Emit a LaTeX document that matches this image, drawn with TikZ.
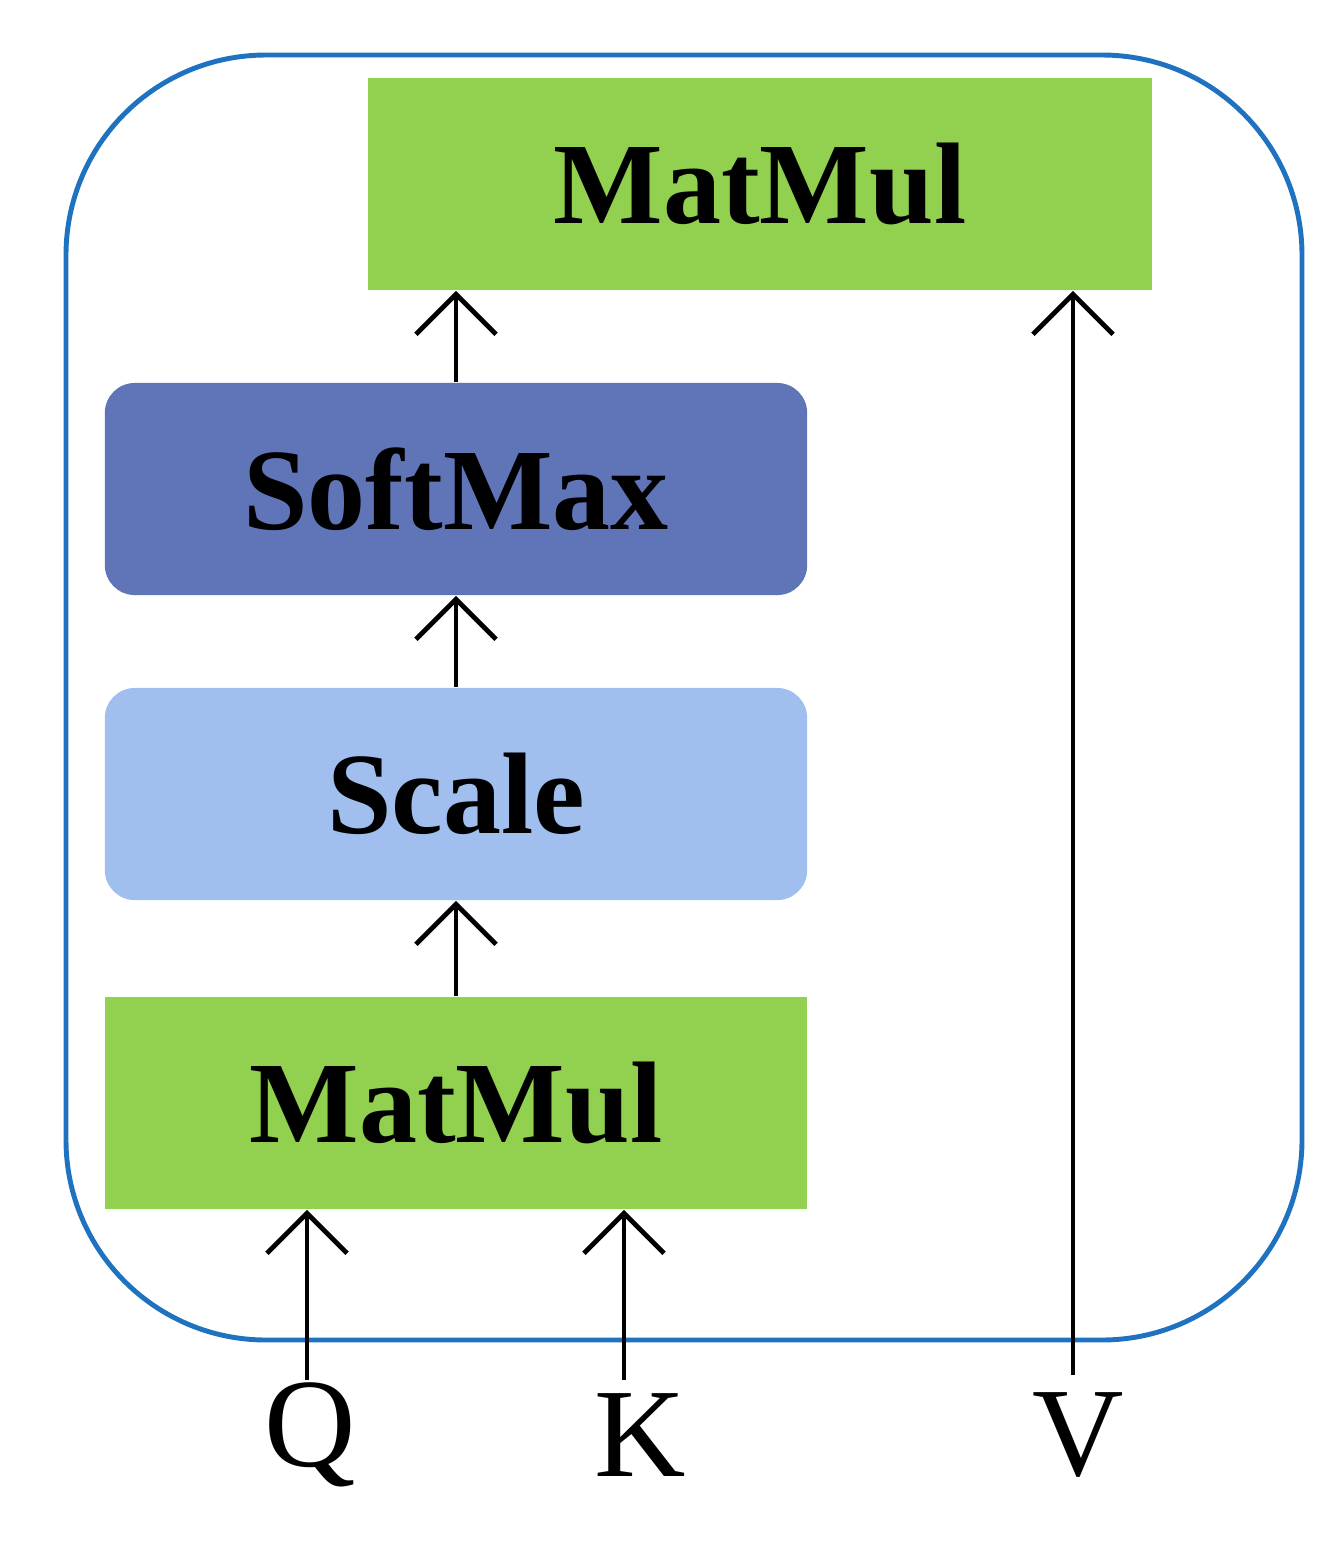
\documentclass[tikz,border=0pt]{standalone}
\usepackage{fontspec}
\setmainfont{Liberation Serif}
\usetikzlibrary{arrows.meta,positioning,calc}
\definecolor{mmgreen}{HTML}{92D050}
\definecolor{smblue}{HTML}{5F75B8}
\definecolor{scblue}{HTML}{A0BFEE}
\definecolor{frameblue}{HTML}{1F72C0}
\tikzset{
  block/.style={minimum width=7.02cm, minimum height=2.12cm, inner sep=0pt,
    font=\fontsize{33}{36}\selectfont\bfseries},
  flow/.style={line width=1.4pt, -{Straight Barb[length=4mm,width=8mm,line width=1.4pt]}},
  inlabel/.style={font=\fontsize{36}{40}\selectfont}
}
\begin{document}
\begin{tikzpicture}[x=0.01cm,y=-0.01cm]
    \useasboundingbox (0,0) rectangle (1342,1551);
    % Frame
    \draw[frameblue, line width=1.4pt, rounded corners=2cm] (66,55) rectangle (1302,1340);
    % Blocks
    \node[block, fill=mmgreen, minimum width=7.84cm] (mm2) at (760,184) {MatMul};
    \node[block, fill=smblue, rounded corners=0.3cm] (sm) at (456,489) {SoftMax};
    \node[block, fill=scblue, rounded corners=0.3cm] (sc) at (456,794) {Scale};
    \node[block, fill=mmgreen] (mm1) at (456,1103) {MatMul};
    % Inputs
    \node[inlabel] (q) at (310,1435) {Q};
    \node[inlabel] (k) at (640,1435) {K};
    \node[inlabel] (v) at (1078,1435) {V};
    \coordinate (q0) at (307,1380);
    \coordinate (k0) at (624,1380);
    \coordinate (v0) at (1073,1375);
    % Connections
    \draw[flow] (mm1) -- (sc);
    \draw[flow] (sc) -- (sm);
    \draw[flow] (sm.north) -- (sm.north |- mm2.south);
    \draw[flow] (q0) -- (q0 |- mm1.south);
    \draw[flow] (k0) -- (k0 |- mm1.south);
    \draw[flow] (v0) -- (v0 |- mm2.south);
\end{tikzpicture}
\end{document}
